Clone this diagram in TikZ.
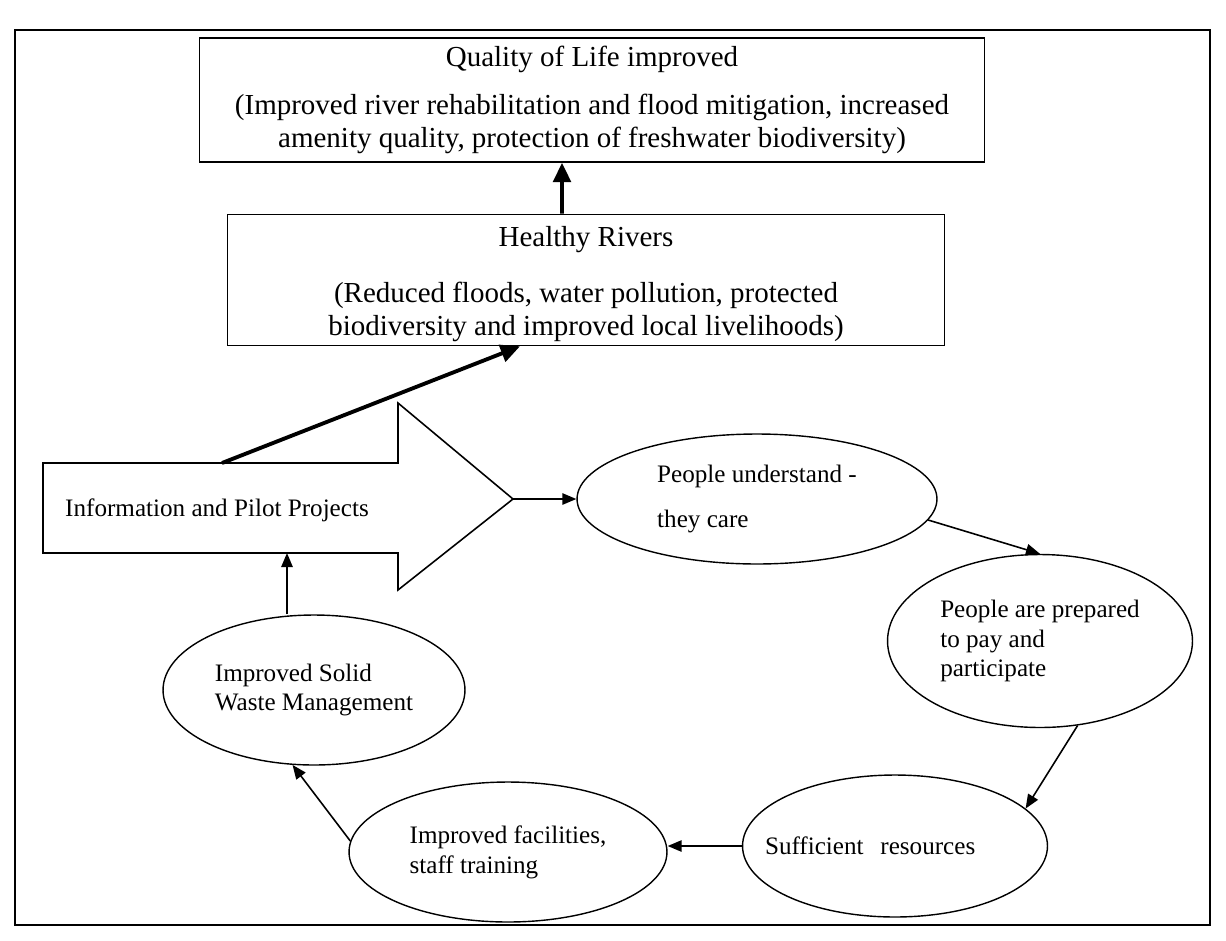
\documentclass[tikz,border=0pt]{standalone}
\usepackage{fontspec}
\setmainfont{Liberation Serif}
\usetikzlibrary{shapes.geometric,arrows.meta}

\begin{document}
\begin{tikzpicture}[x=0.02cm, y=-0.02cm,
  box/.style={draw, line width=0.9pt, rectangle, align=center, inner sep=0pt, font=\fontsize{16.5}{19}\selectfont},
  oval/.style={draw, line width=0.8pt, ellipse, align=left, inner sep=0pt, font=\fontsize{14.3}{17}\selectfont},
  thin/.style={-{Triangle[length=8pt,width=6.5pt]}, line width=0.9pt},
  fat/.style={-{Triangle[length=11pt,width=10pt]}, line width=2.2pt}]
\useasboundingbox (0,0) rectangle (1226,940);
\draw[line width=1.4pt] (15,30) rectangle (1210,925);

\node[box, minimum width=15.7cm, minimum height=2.48cm] (Q) at (592,100)
  {Quality of Life improved\\[8pt] (Improved river rehabilitation and flood mitigation, increased\\ amenity quality, protection of freshwater biodiversity)};
\node[box, minimum width=14.34cm, minimum height=2.62cm] (H) at (586,280)
  {\rule{0pt}{16pt}Healthy Rivers\\[13pt] (Reduced floods, water pollution, protected\\ biodiversity and improved local livelihoods)};

% big arrow
\coordinate (T) at (513,499);
\coordinate (Itop) at (222,463);
\coordinate (Ibot) at (287,553);
\draw[line width=0.9pt] (43,463) -- (398,463) -- (398,403) -- (T) -- (398,590) -- (398,553) -- (43,553) -- cycle;
\node[font=\fontsize{14.3}{17}\selectfont] (I) at (217,510) {Information and Pilot Projects};

\node[oval, minimum width=7.2cm, minimum height=2.6cm] (U) at (757,499) {People understand -\\[9pt] they care};
\node[oval, minimum width=6.1cm, minimum height=3.46cm] (P) at (1040,641) {People are prepared\\ to pay and\\ participate};
\node[oval, minimum width=6.1cm, minimum height=2.84cm, text width=5.2cm, inner xsep=-0.6cm] (S) at (895,846) {Sufficient\ \ resources};
\node[oval, minimum width=6.36cm, minimum height=2.8cm] (F) at (508,852) {Improved facilities,\\ staff training};
\node[oval, minimum width=6.04cm, minimum height=3cm] (W) at (314,690) {Improved Solid\\ Waste Management};

\draw[fat] ([xshift=-0.48cm]H.north) -- ([xshift=-0.6cm]Q.south);
\draw[fat] (Itop) -- ([xshift=-1.32cm]H.south);
\draw[thin] (T) -- (U.west);
\draw[thin] (U.-7) -- (P.north);
\draw[thin] (P.-66) -- (S.16);
\draw[thin] (S.west) -- (S.west -| F.east);
\draw[thin] (F.176) -- (W.-106);
\draw[thin] (W.north -| Ibot) -- (Ibot);
\end{tikzpicture}
\end{document}
